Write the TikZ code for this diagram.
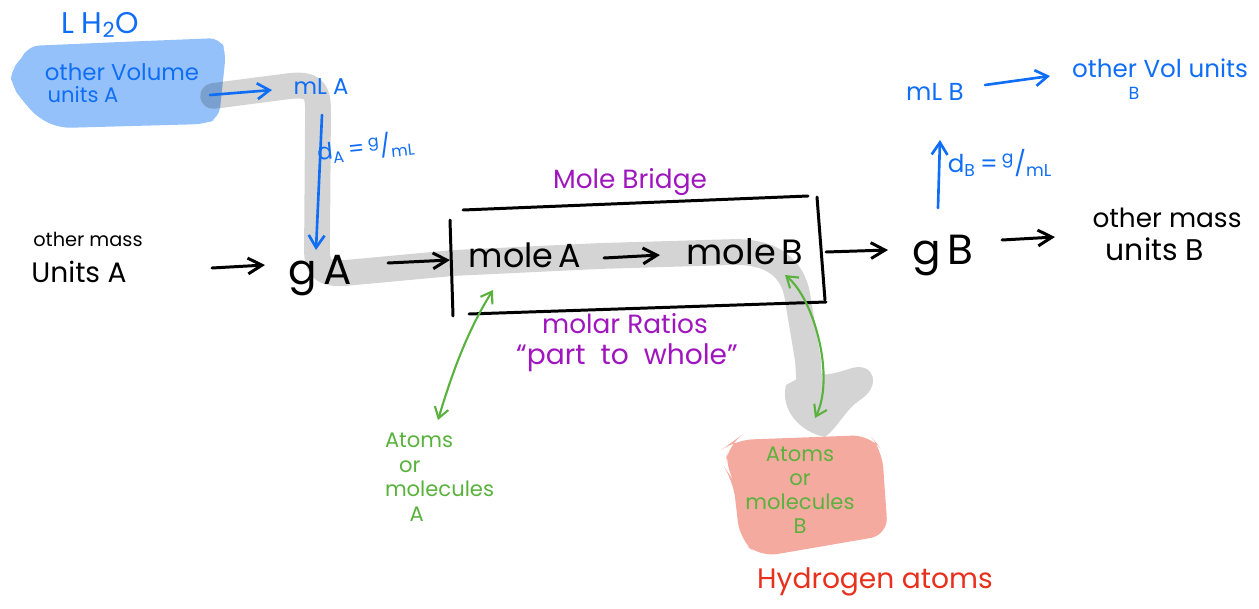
\documentclass[tikz,border=0pt]{standalone}
\usepackage{fontspec}
\setmainfont{Poppins}
\usetikzlibrary{arrows.meta}
\definecolor{hblue}{RGB}{15,110,245}
\definecolor{boxblue}{RGB}{148,193,250}
\definecolor{overlap}{RGB}{122,160,207}
\definecolor{hgreen}{RGB}{90,178,62}
\definecolor{hred}{RGB}{232,48,28}
\definecolor{hpurple}{RGB}{160,22,190}
\definecolor{bandgray}{RGB}{212,212,212}
\definecolor{pinkbox}{RGB}{245,170,160}
\newcommand{\fs}[1]{\fontsize{#1}{#1}\selectfont}
\tikzset{
  lbl/.style={inner sep=0pt, outer sep=0pt},
  tk/.style={lbl, text=black},
  tb/.style={lbl, text=hblue},
  tp/.style={lbl, text=hpurple},
  tg/.style={lbl, text=hgreen},
  tr/.style={lbl, text=hred},
  ink/.style={line width=1.7pt, line cap=round, line join=round},
  arr/.style={ink, -{Straight Barb[length=8pt,width=9pt]}},
  barr/.style={ink, hblue, line width=1.5pt, -{Straight Barb[length=7pt,width=9pt]}},
  garr/.style={line width=1.2pt, hgreen, line cap=round, {Straight Barb[length=6pt,width=8pt]}-{Straight Barb[length=6pt,width=8pt]}},
  band/.style={bandgray, line width=14.7pt, line cap=round, line join=round},
}
\begin{document}
\begin{tikzpicture}[x=0.02cm, y=-0.02cm]
\useasboundingbox (0,0) rectangle (1259,609);

% blue box
\fill[boxblue, rounded corners=6pt] (28,46) -- (120,42) -- (220,38) -- (226,52) -- (222,90) -- (219,118) -- (205,124) -- (60,128) -- (38,118) -- (22,100) -- (12,86) -- (10,70) -- (20,62) -- cycle;

% grey band
\draw[band] (213,96) -- (290,86) .. controls (318,83) and (318,95) .. (318,115) -- (317,250) .. controls (317,270) and (325,274) .. (345,273) -- (453,263) -- (600,256) -- (735,252) .. controls (780,252) and (795,275) .. (798,300) -- (808,360) -- (810,395);
\begin{scope}
\clip[rounded corners=6pt] (28,46) -- (120,42) -- (220,38) -- (226,52) -- (222,90) -- (219,118) -- (205,124) -- (60,128) -- (38,118) -- (22,100) -- (12,86) -- (10,70) -- (20,62) -- cycle;
\draw[band, overlap] (213,96) -- (290,86);
\end{scope}
\fill[bandgray] (786,385) .. controls (780,410) and (800,432) .. (825,437) .. controls (840,425) and (845,410) .. (860,400) .. controls (882,386) and (874,362) .. (852,368) .. controls (838,372) and (825,378) .. (810,372) -- cycle;

% pink box
\fill[pinkbox, rounded corners=10pt] (735,440) -- (870,435) -- (882,450) -- (888,535) -- (760,557) -- (740,540) -- (733,480) -- (725,468) -- (728,445) -- cycle;

% mole bridge box
\draw[ink] (463,210) -- (808,196);
\draw[ink] (817,197) -- (825,300);
\draw[ink] (469,314) -- (826,302);
\draw[ink] (450,220) -- (453,316);

% blue labels
\node[tb, font=\fs{17}] (lh2o) at (100,25) {L H\textsubscript{2}O};
\node[tb, font=\fs{13}] (ovA) at (122,72) {other Volume};
\node[tb, font=\fs{12}] (uvA) at (83,95) {units A};
\node[tb, font=\fs{13}] (mLA) at (321,87) {mL A};
\node[tb, font=\fs{13}, rotate=6] (dA) at (366,147) {d\textsubscript{A}\,=\,\textsuperscript{g}/\textsubscript{mL}};
\node[tb, font=\fs{14}] (mLB) at (935,92) {mL B};
\node[tb, font=\fs{14}] (ovB) at (1160,68) {other Vol units};
\node[tb, font=\fs{10}] (ovBb) at (1134,93) {B};
\node[tb, font=\fs{14}] (dB) at (1000,163) {d\textsubscript{B}\,=\,\textsuperscript{g}/\textsubscript{mL}};

% black labels
\node[tk, font=\fs{11}] (omA) at (88,239) {other mass};
\node[tk, font=\fs{16}] (unA) at (79,272) {Units A};
\node[tk, font=\fs{24}] (gA) at (320,276) {g\,A};
\node[tk, font=\fs{19}] (moA) at (525,255) {mole\,A};
\node[tk, font=\fs{20}] (moB) at (745,252) {mole\,B};
\node[tk, font=\fs{24}] (gB) at (943,255) {g\,B};
\node[tk, font=\fs{15}] (omB) at (1167,218) {other mass};
\node[tk, font=\fs{17}] (unB) at (1155,249) {units B};

% purple labels
\node[tp, font=\fs{15}] (mb) at (630,182) {Mole Bridge};
\node[tp, font=\fs{15}] (mr) at (625,324) {molar Ratios};
\node[tp, font=\fs{16}] (pw) at (627,358) {“part\ \ to\ \ whole”};

% green labels
\node[tg, font=\fontsize{12}{14}\selectfont, align=left, anchor=north west] (atA) at (385,433) {Atoms\\\hspace{8pt}or\\molecules\\\hspace{14pt}A};
\node[tg, font=\fontsize{12}{13.6}\selectfont, align=center] (atB) at (800,490) {Atoms\\or\\molecules\\B};

% red label
\node[tr, font=\fs{16}] (hy) at (875,582) {Hydrogen atoms};

% black arrows
\draw[arr] ([shift={(133,-4)}]unA.center) -- ([shift={(-55,-11)}]gA.center);
\draw[arr] ([shift={(68,-13)}]gA.center) -- ([shift={(-75,5)}]moA.center);
\draw[arr] ([shift={(79,3)}]moA.center) -- ([shift={(-85,3)}]moB.center);
\draw[arr] ([shift={(81,0)}]moB.center) -- ([shift={(-55,-5)}]gB.center);
\draw[arr] ([shift={(59,-15)}]gB.center) -- ([shift={(-112,19)}]omB.center);

% blue arrows
\draw[barr] ([shift={(127,0)}]uvA.center) -- ([shift={(-49,3)}]mLA.center);
\draw[barr] ([shift={(1,28)}]mLA.center) -- ([shift={(-4,-26)}]gA.center);
\draw[barr] ([shift={(-5,-47)}]gB.center) -- ([shift={(5,48)}]mLB.center);
\draw[barr] ([shift={(50,-7)}]mLB.center) -- ([shift={(-110,8)}]ovB.center);

% green arrows
\draw[garr] ([shift={(-32,35)}]moA.center) .. controls +(-25,40) and +(15,-50) .. ([shift={(53,-13)}]atA.north west);
\draw[garr] ([shift={(40,23)}]moB.center) .. controls +(30,25) and +(20,-40) .. ([shift={(15,-72)}]atB.center);
\end{tikzpicture}
\end{document}
